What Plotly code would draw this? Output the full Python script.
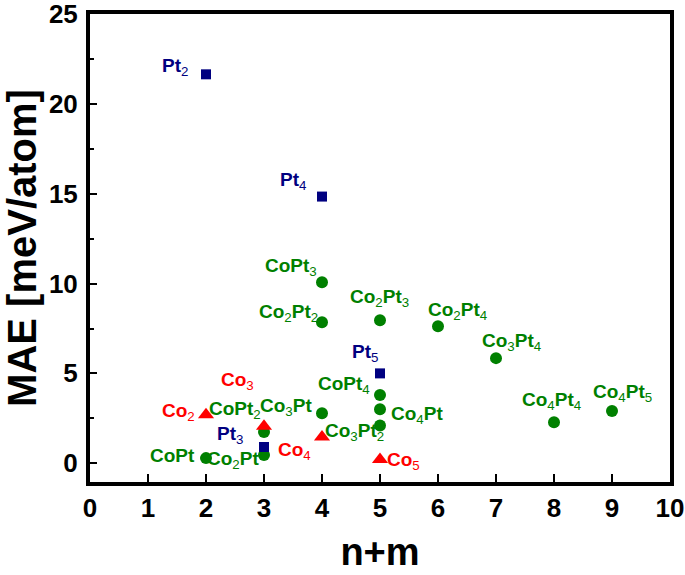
import plotly.graph_objects as go

# ---- data ----
pt_names = ["Pt2", "Pt3", "Pt4", "Pt5"]
pt_x = [2, 3, 4, 5]
pt_y = [21.66, 0.9, 14.85, 5.0]

co_names = ["Co2", "Co3", "Co4", "Co5"]
co_x = [2, 3, 4, 5]
co_y = [2.7, 2.05, 1.45, 0.2]

copt_names = ["CoPt", "Co2Pt", "CoPt2", "Co3Pt", "CoPt3", "Co2Pt2",
              "Co3Pt2", "Co4Pt", "CoPt4", "Co2Pt3", "Co2Pt4", "Co3Pt4",
              "Co4Pt4", "Co4Pt5"]
copt_x = [2, 3, 3, 4, 4, 4, 5, 5, 5, 5, 6, 7, 8, 9]
copt_y = [0.28, 0.45, 1.73, 2.78, 10.08, 7.85, 2.1, 3.0, 3.79, 7.96,
          7.63, 5.85, 2.28, 2.9]

x_ticks = [0, 1, 2, 3, 4, 5, 6, 7, 8, 9, 10]
y_ticks = [0, 5, 10, 15, 20, 25]

# ---- label placement (pixel offsets of label centre from its point) ----
label_offsets = {
    "Pt2": (-31, -10), "Pt4": (-29, -19), "Pt5": (-15, -23), "Pt3": (-34, -15),
    "Co2": (-28, -6), "Co3": (-27, -48), "Co4": (-28, 11), "Co5": (23, -2),
    "CoPt": (-34, -6), "Co2Pt": (-31, 2), "CoPt2": (-29, -25), "Co3Pt": (-36, -9),
    "Co3Pt2": (-26, 4), "Co4Pt": (37, 3), "CoPt4": (-36, -13), "CoPt3": (-31, -18),
    "Co2Pt2": (-34, -12), "Co2Pt3": (-1, -25), "Co2Pt4": (19, -18),
    "Co3Pt4": (15, -19), "Co4Pt4": (-3, -24), "Co4Pt5": (10, -21),
}

GREEN = "#008000"
RED = "#ff0000"
NAVY = "#000080"
FONT = "Liberation Sans, Arial, sans-serif"


def fmt(name):
    out = ""
    i = 0
    while i < len(name):
        if name[i].isdigit():
            out += "<sub>" + name[i] + "</sub>"
            i += 1
        else:
            j = i
            while j < len(name) and not name[j].isdigit():
                j += 1
            out += "<b>" + name[i:j] + "</b>"
            i = j
    return out


fig = go.Figure()
fig.add_trace(go.Scatter(x=copt_x, y=copt_y, mode="markers",
                         marker=dict(symbol="circle", size=12, color=GREEN),
                         showlegend=False))
fig.add_trace(go.Scatter(x=pt_x, y=pt_y, mode="markers",
                         marker=dict(symbol="square", size=10, color=NAVY),
                         showlegend=False))
fig.add_trace(go.Scatter(x=co_x, y=co_y, mode="markers",
                         marker=dict(symbol="triangle-up", size=14, color=RED),
                         showlegend=False))

annotations = []
for names, xs, ys, col in [(pt_names, pt_x, pt_y, NAVY),
                           (co_names, co_x, co_y, RED),
                           (copt_names, copt_x, copt_y, GREEN)]:
    for n, xv, yv in zip(names, xs, ys):
        dx, dy = label_offsets[n]
        annotations.append(dict(
            x=xv, y=yv, xref="x", yref="y", text=fmt(n), showarrow=False,
            xanchor="center", yanchor="middle", xshift=dx, yshift=-dy - 3,
            font=dict(family=FONT, size=19, color=col)))

fig.update_layout(
    width=685, height=575,
    margin=dict(l=90, r=15, t=14, b=93),
    plot_bgcolor="white", paper_bgcolor="white",
    font=dict(family=FONT, color="black"),
    annotations=annotations,
    xaxis=dict(
        range=[0, 10], tickvals=x_ticks, ticktext=[str(v) for v in x_ticks],
        showgrid=False, zeroline=False, automargin=False,
        showline=True, linewidth=4, linecolor="black", mirror=True,
        ticks="inside", ticklen=8, tickwidth=2, tickcolor="black",
        tickfont=dict(family=FONT, size=26, color="black", weight="bold"),
        ticklabelstandoff=0, ticklabeloverflow="allow",
        title=dict(text="<b>n+m</b>", font=dict(family=FONT, size=38, color="black"),
                   standoff=17),
    ),
    yaxis=dict(
        range=[-1.05, 25.02], tickvals=y_ticks, ticktext=[str(v) for v in y_ticks],
        showgrid=False, zeroline=False, automargin=False,
        showline=True, linewidth=4, linecolor="black", mirror=True,
        ticks="inside", ticklen=7, tickwidth=2, tickcolor="black",
        minor=dict(dtick=2.5, tick0=0, ticks="inside", ticklen=4, tickwidth=2,
                   tickcolor="black", showgrid=False),
        tickfont=dict(family=FONT, size=26, color="black", weight="bold"),
        ticklabelstandoff=3, ticklabeloverflow="allow",
        title=dict(text="<b>MAE [meV/atom]</b>", font=dict(family=FONT, size=40, color="black"),
                   standoff=2),
    ),
)

fig.write_html("out.html", config={"displayModeBar": False},
               post_script="document.body.style.margin='0px';document.body.style.overflow='hidden';")
